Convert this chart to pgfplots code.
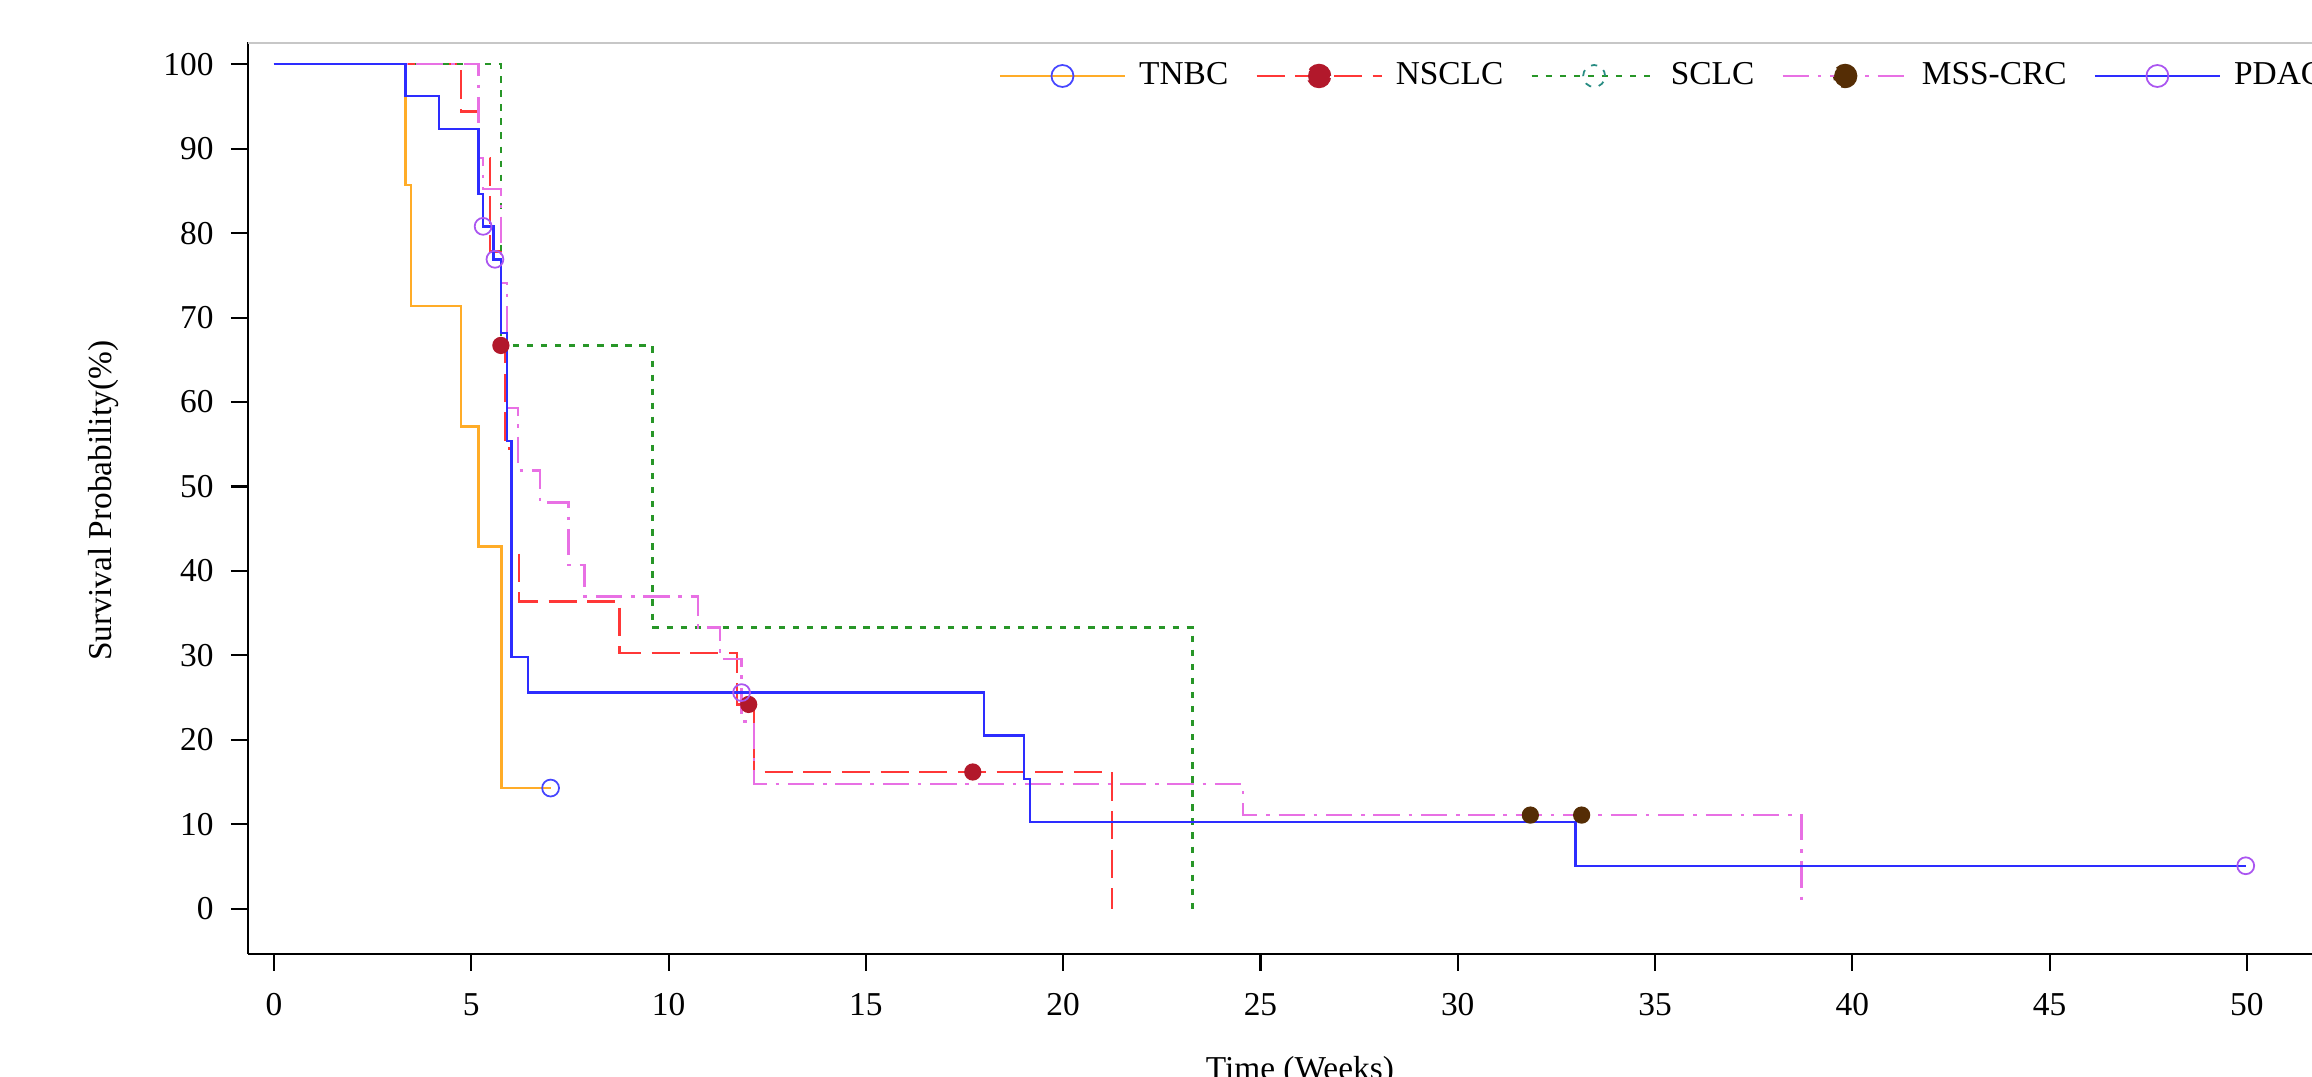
\documentclass[border=0pt]{standalone}
\usepackage{fontspec}
\setmainfont{Liberation Serif}
\usepackage{pgfplots}
\pgfplotsset{compat=1.18}

\definecolor{tnbcC}{RGB}{255,172,40}
\definecolor{nsclcC}{RGB}{255,55,55}
\definecolor{sclcC}{RGB}{40,150,40}
\definecolor{crcC}{RGB}{232,112,228}
\definecolor{pdacC}{RGB}{45,45,255}
\definecolor{tnbcM}{RGB}{70,70,255}
\definecolor{nsclcM}{RGB}{178,24,43}
\definecolor{sclcM}{RGB}{40,140,130}
\definecolor{crcM}{RGB}{85,45,5}
\definecolor{pdacM}{RGB}{170,85,240}

\tikzset{
  nsclcdash/.style={dash pattern=on 8pt off 3pt},
  sclcdash/.style={dash pattern=on 1.8pt off 2.2pt},
  crcdash/.style={dash pattern=on 7.5pt off 2.5pt on 1pt off 2.5pt},
}

\begin{document}
\begin{tikzpicture}
\begin{axis}[
  x=0.3946cm, y=0.08447cm,
  xmin=-0.66, xmax=52.7, ymin=-5.33, ymax=102.6,
  axis x line*=bottom, axis y line*=left,
  axis line style={black,line width=0.6pt},
  xtick={0,5,...,50}, ytick={0,10,...,100},
  tick align=outside, major tick length=0.17cm,
  tick style={black,line width=0.6pt},
  font=\fontsize{9.5}{11}\selectfont,
  ticklabel style={font=\fontsize{9.5}{11}\selectfont},
  xticklabel style={yshift=-0.1cm},
  yticklabel style={xshift=-0.05cm},
  /pgf/number format/assume math mode=true,
  xlabel={Time (Weeks)},
  ylabel={Survival Probability(\%)},
  xlabel style={at={(axis description cs:0.4996,0)},anchor=north,yshift=-0.9cm},
  ylabel style={at={(axis description cs:-0.0688,0.497)},anchor=center,rotate=0},
  legend columns=-1,
  legend style={draw=none,fill=none,at={(axis cs:18.35,98.6)},anchor=west,
    inner sep=0pt,font=\fontsize{9.5}{11}\selectfont,
    /tikz/every odd column/.append style={column sep=0.06cm},
    /tikz/every even column/.append style={column sep=0.2cm}},
  every axis plot/.append style={line width=0.7pt},
]
% TNBC
\addplot[const plot,tnbcC,
  legend image code/.code={\draw[tnbcC,line width=0.7pt](0cm,0cm)--(1.25cm,0cm);
    \draw[tnbcM,line width=0.5pt](0.625cm,0cm) circle (0.11cm);}]
  coordinates {(0,100)(3.33,85.7)(3.47,71.4)(4.74,57.1)(5.18,42.9)(5.77,14.3)(7.01,14.3)};
\addlegendentry{TNBC}
\addplot[only marks,mark=o,mark size=2.4pt,mark options={draw=tnbcM,line width=0.5pt},forget plot]
  coordinates {(7.01,14.3)};
% NSCLC
\addplot[const plot,nsclcC,nsclcdash,
  legend image code/.code={\draw[nsclcC,nsclcdash,line width=0.7pt](0cm,0cm)--(1.25cm,0cm);
    \fill[nsclcM](0.625cm,0cm) circle (0.11cm);}]
  coordinates {(0,100)(4.74,94.4)(5.18,88.9)(5.47,77.8)(5.75,66.7)(5.87,54.5)(6.03,42.4)
    (6.21,36.4)(8.76,30.3)(11.74,24.2)(12.17,16.2)(21.24,16.2)(21.24,0)};
\addlegendentry{NSCLC}
\addplot[only marks,mark=*,mark size=2.1pt,mark options={draw=nsclcM,fill=nsclcM},forget plot]
  coordinates {(5.75,66.7)(12.03,24.2)(17.71,16.2)};
% SCLC
\addplot[const plot,sclcC,sclcdash,
  legend image code/.code={\draw[sclcC,sclcdash,line width=0.7pt](0cm,0cm)--(1.25cm,0cm);
    \draw[sclcM,line width=0.5pt](0.625cm,0cm) circle (0.11cm);}]
  coordinates {(0,100)(5.75,66.7)(9.59,33.3)(23.28,33.3)(23.28,0)};
\addlegendentry{SCLC}
% MSS-CRC
\addplot[const plot,crcC,crcdash,
  legend image code/.code={\draw[crcC,crcdash,line width=0.7pt](0cm,0cm)--(1.25cm,0cm);
    \fill[crcM](0.625cm,0cm) circle (0.11cm);}]
  coordinates {(0,100)(5.18,88.9)(5.3,85.2)(5.75,74.1)(5.9,59.3)(6.19,51.9)(6.74,48.1)
    (7.46,40.7)(7.87,37.0)(10.74,33.3)(11.31,29.6)(11.85,22.2)(12.17,14.8)(24.56,11.1)
    (38.71,11.1)(38.71,0)};
\addlegendentry{MSS-CRC}
\addplot[only marks,mark=*,mark size=2.1pt,mark options={draw=crcM,fill=crcM},forget plot]
  coordinates {(31.84,11.1)(33.14,11.1)};
% PDAC
\addplot[const plot,pdacC,
  legend image code/.code={\draw[pdacC,line width=0.7pt](0cm,0cm)--(1.25cm,0cm);
    \draw[pdacM,line width=0.5pt](0.625cm,0cm) circle (0.11cm);}]
  coordinates {(0,100)(3.33,96.2)(4.18,92.3)(5.18,84.6)(5.3,80.8)(5.56,76.9)(5.75,68.2)
    (5.9,55.4)(6.02,29.8)(6.44,25.6)(18.0,20.5)(19.01,15.4)(19.16,10.3)(32.99,5.1)(49.97,5.1)};
\addlegendentry{PDAC}
\addplot[only marks,mark=o,mark size=2.4pt,mark options={draw=pdacM,line width=0.5pt},forget plot]
  coordinates {(5.3,80.8)(5.6,76.9)(11.85,25.6)(49.97,5.1)};

\draw[black!22,line width=0.8pt] (rel axis cs:0,1) -- (rel axis cs:1,1) -- (rel axis cs:1,0);
\coordinate (bbsw) at (axis cs:-6.944,-19.89);
\coordinate (bbne) at (axis cs:51.65,107.6);
\end{axis}
\pgfresetboundingbox
\path[use as bounding box] (bbsw) rectangle (bbne);
\end{tikzpicture}
\end{document}
